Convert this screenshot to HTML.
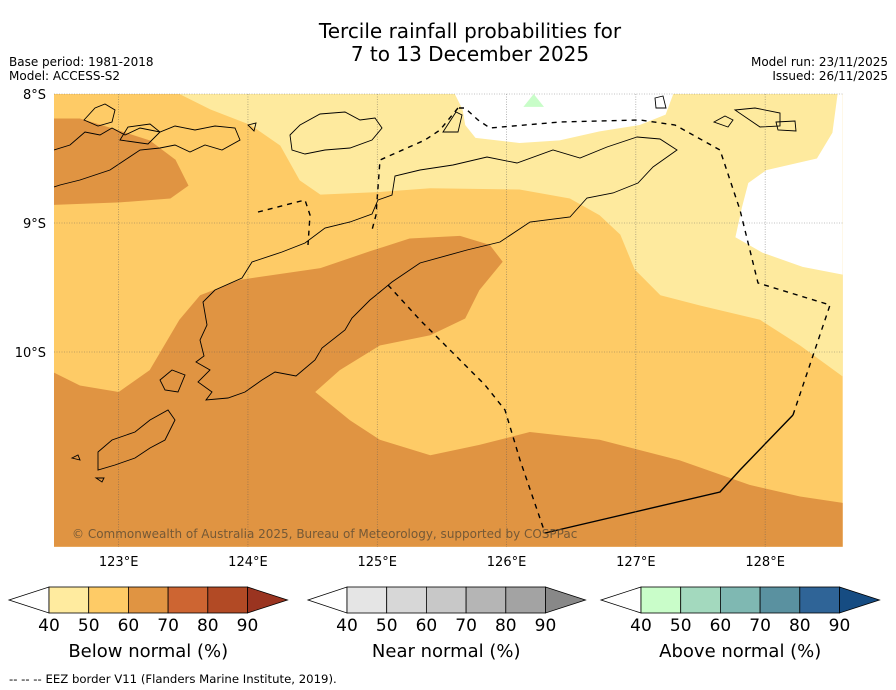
<!DOCTYPE html>
<html><head><meta charset="utf-8">
<style>
body{margin:0;background:#fff;font-family:"Liberation Sans","DejaVu Sans",sans-serif;}
#wrap{position:relative;width:896px;height:690px;overflow:hidden;}
.t{position:absolute;white-space:nowrap;color:#000;}
</style></head><body>
<div id="wrap">
<div class="t" style="left:0;width:940px;text-align:center;top:20px;font-size:20px;line-height:23px;font-family:'DejaVu Sans',sans-serif;">Tercile rainfall probabilities for<br>7 to 13 December 2025</div>
<div class="t" style="left:9px;top:55px;font-size:12px;line-height:14px;font-family:'DejaVu Sans',sans-serif;">Base period: 1981-2018<br>Model: ACCESS-S2</div>
<div class="t" style="right:8px;top:55px;font-size:12px;line-height:14px;text-align:right;font-family:'DejaVu Sans',sans-serif;">Model run: 23/11/2025<br>Issued: 26/11/2025</div>
<svg id="map" width="896" height="690" style="position:absolute;left:0;top:0" xmlns="http://www.w3.org/2000/svg"></svg>
</div>
<script>
// map extent / ticks
const lonTicks=[123,124,125,126,127,128];
const latTicks=[-8,-9,-10];
const lonLabels=["123°E","124°E","125°E","126°E","127°E","128°E"];
const latLabels=["8°S","9°S","10°S"];
// probability regions (lon, lat)
const regionBase=[[122.5,-8],[128.6,-8],[128.6,-11.51],[122.5,-11.51]];
const regionDarkSouth=[[122.5,-10.16],[122.7,-10.26],[123,-10.31],[123.24,-10.14],[123.47,-9.75],[123.63,-9.56],[123.94,-9.44],[124.56,-9.35],[124.94,-9.22],[125.25,-9.12],[125.64,-9.1],[125.87,-9.17],[125.97,-9.3],[125.79,-9.52],[125.68,-9.74],[125.41,-9.87],[125.02,-9.95],[124.71,-10.14],[124.52,-10.31],[124.79,-10.53],[125.02,-10.68],[125.41,-10.8],[125.79,-10.72],[126.18,-10.62],[126.72,-10.68],[127.34,-10.84],[127.88,-11.03],[128.27,-11.12],[128.6,-11.17],[128.6,-11.51],[122.5,-11.51]];
const regionDarkNW=[[122.5,-8.19],[122.7,-8.19],[122.93,-8.26],[123.24,-8.36],[123.44,-8.51],[123.54,-8.71],[123.4,-8.81],[123.01,-8.84],[122.5,-8.86]];
const regionLight=[[123.47,-8],[123.71,-8.12],[124.02,-8.24],[124.25,-8.4],[124.4,-8.67],[124.56,-8.78],[125.02,-8.76],[125.41,-8.73],[126.1,-8.74],[126.49,-8.81],[126.72,-8.94],[126.88,-9.09],[126.99,-9.36],[127.19,-9.56],[127.5,-9.64],[127.96,-9.75],[128.27,-9.95],[128.6,-10.19],[128.6,-8]];
const regionWhiteN=[[125.6,-8],[125.66,-8.12],[125.68,-8.24],[125.76,-8.34],[126.1,-8.38],[126.41,-8.36],[126.72,-8.29],[127.03,-8.24],[127.23,-8.16],[127.29,-8]];
const regionWhiteE=[[128.56,-8],[128.52,-8.3],[128.4,-8.5],[128.01,-8.59],[127.87,-8.69],[127.82,-8.88],[127.77,-9.11],[127.98,-9.23],[128.29,-9.34],[128.6,-9.4],[128.6,-8]];
const regionGreen=[[126.13,-8.1],[126.21,-8],[126.29,-8.1]];

const X0=54,X1=843,Y0=94,Y1=547;
function xs(lon){return X0+(lon-122.5)*129.3;}
function ys(lat){return Y0+(-8-lat)*129;}
const NS="http://www.w3.org/2000/svg";
const svg=document.getElementById('map');
function mk(tag,attrs){const e=document.createElementNS(NS,tag);for(const k in attrs)e.setAttribute(k,attrs[k]);svg.appendChild(e);return e;}
function poly(pts,fill,name){
  const e=mk('polygon',{points:pts.map(p=>xs(p[0]).toFixed(1)+','+ys(p[1]).toFixed(1)).join(' '),fill:fill});
  
  
}
const defs=mk('defs',{});
defs.innerHTML='<clipPath id="mc"><rect x="54" y="94" width="789" height="453"/></clipPath>';
poly(regionBase,'#fecb66','region-50-60');
poly(regionDarkSouth,'#e09442','region-60-70-south');
poly(regionDarkNW,'#e09442','region-60-70-northwest');
poly(regionLight,'#feea9e','region-40-50');
poly(regionWhiteN,'#ffffff','region-below-40-north');
poly(regionWhiteE,'#ffffff','region-below-40-east');
poly(regionGreen,'#c8fdc8','region-above-normal');

const coasts=[
"M420,170 L395,176 L392,195 L378,200 L372,214 L350,222 L325,228 L305,243 L282,252 L252,262 L242,278 L215,290 L203,302 L207,325 L200,340 L204,356 L196,362 L210,370 L198,382 L212,392 L206,400 L228,398 L245,392 L262,380 L275,372 L296,376 L315,360 L322,348 L345,330 L352,318 L370,300 L375,296 L392,282 L420,263 L467,250 L500,242 L530,222 L570,217 L587,198 L613,193 L638,183 L653,167 L677,150 L660,139 L637,137 L607,147 L580,158 L553,150 L517,163 L487,157 L453,165 Z",
"M54,150 L70,145 L85,132 L100,135 L112,128 L125,135 L140,128 L160,132 L175,126 L195,130 L215,126 L235,128 L240,140 L222,150 L205,145 L190,152 L175,145 L160,148 L140,150 L125,160 L110,170 L95,175 L80,180 L60,185 L54,187",
"M84,120 L95,108 L105,104 L115,110 L112,122 L98,126 Z",
"M120,140 L128,127 L150,124 L160,132 L148,144 Z",
"M290,135 L300,125 L320,114 L345,112 L360,120 L375,118 L382,128 L372,140 L350,148 L325,150 L305,154 L292,150 Z",
"M443,132 L456,112 L462,115 L458,132 Z",
"M655,98 L663,96 L666,108 L656,108 Z",
"M714,122 L725,116 L733,120 L728,127 Z",
"M735,110 L755,108 L780,113 L780,126 L760,127 Z",
"M776,122 L795,121 L796,131 L778,130 Z",
"M160,380 L172,370 L185,375 L178,392 L165,390 Z",
"M98,452 L112,440 L135,432 L150,420 L168,410 L175,420 L165,440 L150,448 L135,458 L115,465 L98,470 Z",
"M72,458 L78,455 L80,460 Z",
"M96,478 L104,478 L102,482 Z",
"M248,125 L256,123 L254,131 Z"
];
coasts.forEach((d,i)=>{
  const e=mk('path',{d:d,fill:'none',stroke:'#000','stroke-width':0.9,'clip-path':'url(#mc)'});
  
  
});
const eez=[
["M458,108 L440,130 L425,140 L380,160 L376,215 L372,230",true],
["M258,212 L305,200 L310,215 L308,245",true],
["M388,285 L420,320 L450,350 L485,385 L505,410 L520,460 L545,533",true],
["M545,533 L720,492 L740,470 L793,415",false],
["M793,415 L830,305 L758,283 L740,210 L720,150 L675,125 L640,120 L560,122 L490,128 L478,120 L465,108 L458,108",true]
];
eez.forEach(a=>{
  const at={d:a[0],fill:'none',stroke:'#000','stroke-width':1.4};
  if(a[1])at['stroke-dasharray']='5,5';
  const e=mk('path',at);
  
  
});
lonTicks.forEach((lon,i)=>{
  const x=xs(lon);
  const g=mk('line',{x1:x,x2:x,y1:Y0,y2:Y1,stroke:'#555','stroke-width':0.6,'stroke-dasharray':'1,1.5','stroke-opacity':0.7});
  
  
  const t=mk('text',{x:x,y:566,'font-size':13,'text-anchor':'middle','font-family':'DejaVu Sans, sans-serif'});
  t.textContent=lonLabels[i];
  
  
});
latTicks.forEach((lat,i)=>{
  const y=ys(lat);
  const g=mk('line',{x1:X0,x2:X1,y1:y,y2:y,stroke:'#555','stroke-width':0.6,'stroke-dasharray':'1,1.5','stroke-opacity':0.7});
  
  
  const t=mk('text',{x:46,y:y+5,'font-size':13,'text-anchor':'end','font-family':'DejaVu Sans, sans-serif'});
  t.textContent=latLabels[i];
  
  
});
const cp=mk('text',{x:72,y:538,'font-size':12,fill:'#5a4a33','fill-opacity':0.8,'font-family':'DejaVu Sans, sans-serif'});
cp.textContent='© Commonwealth of Australia 2025, Bureau of Meteorology, supported by COSPPac';



const cbTicks=["40","50","60","70","80","90"];
const cbBelow=['#ffeb9f','#fecb66','#e09442','#cd6532','#b24a25','#9a3420'];
const cbNear=['#e5e5e5','#d7d7d7','#c8c8c8','#b5b5b5','#a3a3a3','#888888'];
const cbAbove=['#c9fdc9','#a3d9be','#7fb8b2','#5a91a0','#2f6497','#164c82'];
const cbTitles=['Below normal (%)','Near normal (%)','Above normal (%)'];
[[9,49,cbBelow],[308,347,cbNear],[601,641,cbAbove]].forEach((c,k)=>{
  const tip=c[0],bx=c[1],cols=c[2],w=39.7,top=587,bot=613,mid=600;
  const l=mk('polygon',{points:`${tip},${mid} ${bx},${top} ${bx},${bot}`,fill:'#fff',stroke:'#000','stroke-width':0.8});
  
  
  for(let i=0;i<5;i++){
    const r=mk('rect',{x:bx+i*w,y:top,width:w,height:bot-top,fill:cols[i],stroke:'#000','stroke-width':0.8});
    
    
  }
  const re=bx+5*w;
  const r2=mk('polygon',{points:`${re},${top} ${re+40},${mid} ${re},${bot}`,fill:cols[5],stroke:'#000','stroke-width':0.8});
  
  
  cbTicks.forEach((s,i)=>{
    const t=mk('text',{x:bx+i*w,y:631,'font-size':17,'text-anchor':'middle','font-family':'DejaVu Sans, sans-serif'});
    t.textContent=s;
    
    
  });
  const tt=mk('text',{x:bx+2.5*w,y:657,'font-size':18,'text-anchor':'middle','font-family':'DejaVu Sans, sans-serif'});
  tt.textContent=cbTitles[k];
  
  
});
const ft=mk('text',{x:9,y:683,'font-size':11.7,'font-family':'DejaVu Sans, sans-serif'});
ft.textContent='--  --  -- EEZ border V11 (Flanders Marine Institute, 2019).';


</script>
</body></html>
